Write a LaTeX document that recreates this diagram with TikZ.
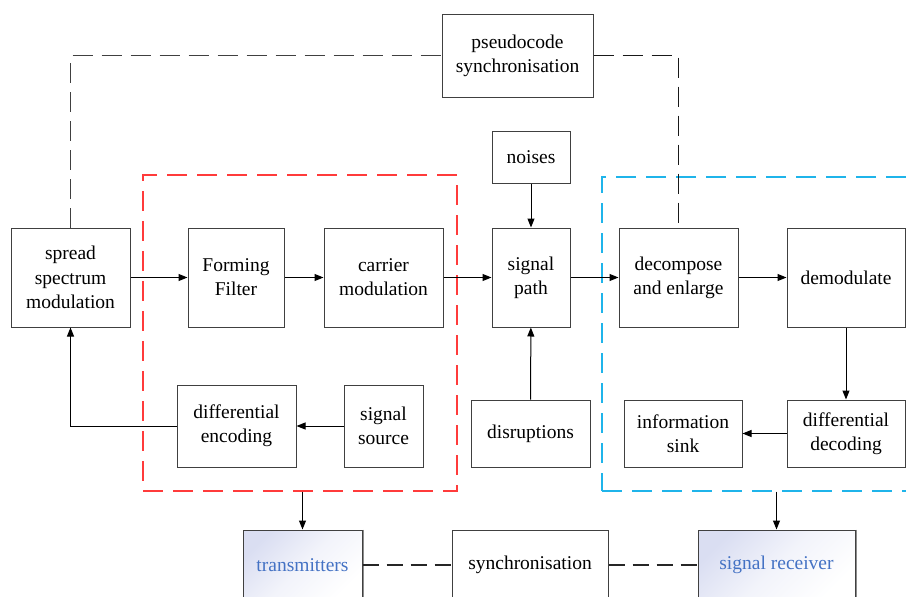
\documentclass[tikz,border=0pt]{standalone}
\usepackage{fontspec}
\setmainfont{Liberation Serif}
\usetikzlibrary{arrows.meta}
\definecolor{boxline}{HTML}{404040}
\definecolor{redframe}{HTML}{FF3B3B}
\definecolor{blueframe}{HTML}{1FB4EA}
\definecolor{labelblue}{HTML}{4472C4}
\definecolor{lavender}{HTML}{DADEF2}
\tikzset{
  blk/.style={draw=boxline, line width=1pt, align=center, inner sep=0pt,
    font=\fontsize{19.5}{24.2}\selectfont},
  endblk/.style={blk, text=labelblue, top color=lavender, bottom color=white,
    middle color=lavender!35!white, shading angle=45},
  arr/.style={line width=1pt, -{Triangle[length=9pt,width=7pt]}},
  syncline/.style={line width=1.1pt, black!75, dash pattern=on 20pt off 9pt},
  linkline/.style={line width=1.1pt, black!85, dash pattern=on 16pt off 8pt},
  txframe/.style={draw=redframe, line width=1.2pt, dash pattern=on 20pt off 10pt},
  rxframe/.style={draw=blueframe, line width=1.2pt, dash pattern=on 20pt off 10pt},
  edgeshade/.style={draw=black!45, line width=1.6pt},
}
\begin{document}
\begin{tikzpicture}[x=1pt,y=-1pt]
\useasboundingbox (0,0) rectangle (906,597);

% transmitter and receiver frames
\node[txframe, minimum width=314pt, minimum height=316pt] (tx) at (300,333) {};
\node[rxframe, minimum width=310pt, minimum height=314pt] (rx) at (757,334) {};

% blocks
\node[blk, minimum width=151pt, minimum height=83pt] (pseudo) at (517.5,55.5) {pseudocode\\synchronisation};
\node[blk, minimum width=119pt, minimum height=99pt] (spread) at (70.5,277.5) {spread\\spectrum\\modulation};
\node[blk, minimum width=96pt, minimum height=99pt] (filter) at (236,277.5) {Forming\\Filter};
\node[blk, minimum width=119pt, minimum height=99pt] (carrier) at (383.5,277.5) {carrier\\modulation};
\node[blk, minimum width=78pt, minimum height=99pt] (path) at (531,277.5) {signal\\path};
\node[blk, minimum width=78pt, minimum height=52pt] (noises) at (531,157) {noises};
\node[blk, minimum width=119pt, minimum height=99pt] (decomp) at (678.5,277.5) {decompose\\and enlarge};
\node[blk, minimum width=118pt, minimum height=99pt] (demod) at (846,277.5) {demodulate};
\node[blk, minimum width=119pt, minimum height=82pt] (denc) at (236.5,426) {differential\\encoding};
\node[blk, minimum width=79pt, minimum height=82pt] (source) at (383.5,426) {signal\\source};
\node[blk, minimum width=119pt, minimum height=67pt] (disrupt) at (530.5,433.5) {disruptions};
\node[blk, minimum width=118pt, minimum height=67pt] (sink) at (683,433.5) {information\\sink};
\node[blk, minimum width=118pt, minimum height=67pt] (ddec) at (846,433.5) {differential\\decoding};

% bottom row
\node[endblk, minimum width=119pt, minimum height=70pt] (trans) at (302.5,565) {transmitters};
\node[blk, minimum width=156pt, minimum height=70pt] (sync) at (530,565) {synchronisation};
\node[endblk, minimum width=157pt, minimum height=70pt] (recv) at (776.5,565) {signal receiver};
\draw[edgeshade] ([xshift=0.8pt]trans.north east) -- ([xshift=0.8pt]trans.south east);
\draw[edgeshade] ([xshift=0.8pt]recv.north east) -- ([xshift=0.8pt]recv.south east);

% signal chain
\draw[arr] (spread) -- (filter);
\draw[arr] (filter) -- (carrier);
\draw[arr] (carrier) -- (path);
\draw[arr] (path) -- (decomp);
\draw[arr] (decomp) -- (demod);
\draw[arr] (demod) -- (ddec);
\draw[arr] (ddec) -- (sink);
\draw[arr] (noises) -- (path);
\draw[arr] (disrupt) -- (path);
\draw[arr] (source) -- (denc);
\draw[arr] (denc.west) -| (spread.south);
\draw[arr] (tx.south -| trans.north) -- (trans.north);
\draw[arr] (rx.south -| recv.north) -- (recv.north);

% synchronisation links
\draw[syncline] (spread.north) |- (pseudo.west);
\draw[syncline, black!90] (pseudo.east) -| (decomp.north);
\draw[linkline] (trans) -- (sync);
\draw[linkline] (sync) -- (recv);
\end{tikzpicture}
\end{document}
